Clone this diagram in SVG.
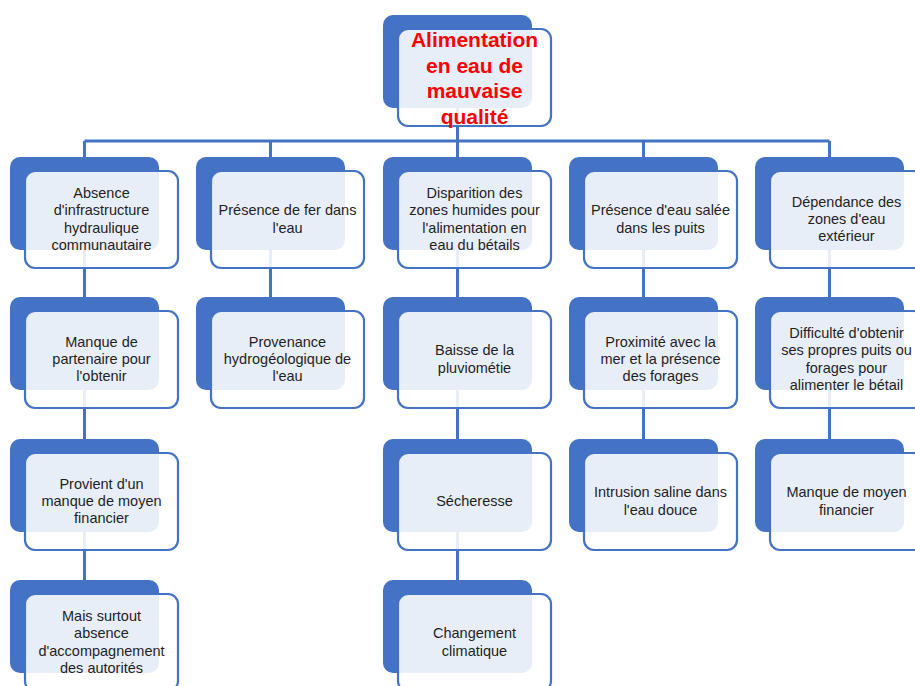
<svg xmlns="http://www.w3.org/2000/svg" width="915" height="686" viewBox="0 0 915 686">
<style>
.bk{fill:#4472C4}
.fr{fill:#ffffff;fill-opacity:0.88;stroke:#4472C4;stroke-width:2.2}
.t{font-family:"Liberation Sans",Arial,sans-serif;font-size:14.5px;fill:#1f1f1f;text-anchor:middle}
.rt{font-family:"Liberation Sans",Arial,sans-serif;font-size:21px;font-weight:bold;fill:#FF0000;text-anchor:middle}
.c{stroke:#4472C4;stroke-width:3;fill:none}
</style>
<defs>
<g id="box">
<rect class="bk" x="0" y="0" width="149" height="93" rx="10"/>
<rect class="fr" x="15" y="14" width="153" height="97" rx="10"/>
</g>
</defs>
<rect width="915" height="686" fill="#ffffff"/>
<g id="connectors">
<path class="c" d="M84.5 141H829.5M457.5 108V157M84.5 141V157M270.5 141V157M643.5 141V157M829.5 141V157"/>
<path class="c" d="M84.5 250V297M84.5 390V439M84.5 532V580"/>
<path class="c" d="M270.5 250V297"/>
<path class="c" d="M457.5 250V297M457.5 390V439M457.5 532V580"/>
<path class="c" d="M643.5 250V297M643.5 390V439"/>
<path class="c" d="M829.5 250V297M829.5 390V439"/>
</g>
<g id="root" transform="translate(383,15)">
<use href="#box"/>
<text class="rt" y="32"><tspan x="91.5">Alimentation</tspan><tspan x="91.5" dy="25.7">en eau de</tspan><tspan x="91.5" dy="25.7">mauvaise</tspan><tspan x="91.5" dy="25.7">qualité</tspan></text>
</g>
<g id="n1" transform="translate(10,157)">
<use href="#box"/>
<text class="t" y="41.05"><tspan x="91.5">Absence</tspan><tspan x="91.5" dy="17.3">d'infrastructure</tspan><tspan x="91.5" dy="17.3">hydraulique</tspan><tspan x="91.5" dy="17.3">communautaire</tspan></text>
</g>
<g id="n1a" transform="translate(10,297)">
<use href="#box"/>
<text class="t" y="49.7"><tspan x="91.5">Manque de</tspan><tspan x="91.5" dy="17.3">partenaire pour</tspan><tspan x="91.5" dy="17.3">l'obtenir</tspan></text>
</g>
<g id="n1b" transform="translate(10,439)">
<use href="#box"/>
<text class="t" y="49.7"><tspan x="91.5">Provient d'un</tspan><tspan x="91.5" dy="17.3">manque de moyen</tspan><tspan x="91.5" dy="17.3">financier</tspan></text>
</g>
<g id="n1c" transform="translate(10,580)">
<use href="#box"/>
<text class="t" y="41.05"><tspan x="91.5">Mais surtout</tspan><tspan x="91.5" dy="17.3">absence</tspan><tspan x="91.5" dy="17.3">d'accompagnement</tspan><tspan x="91.5" dy="17.3">des autorités</tspan></text>
</g>
<g id="n2" transform="translate(196,157)">
<use href="#box"/>
<text class="t" y="58.35"><tspan x="91.5">Présence de fer dans</tspan><tspan x="91.5" dy="17.3">l'eau</tspan></text>
</g>
<g id="n2a" transform="translate(196,297)">
<use href="#box"/>
<text class="t" y="49.7"><tspan x="91.5">Provenance</tspan><tspan x="91.5" dy="17.3">hydrogéologique de</tspan><tspan x="91.5" dy="17.3">l'eau</tspan></text>
</g>
<g id="n3" transform="translate(383,157)">
<use href="#box"/>
<text class="t" y="41.05"><tspan x="91.5">Disparition des</tspan><tspan x="91.5" dy="17.3">zones humides pour</tspan><tspan x="91.5" dy="17.3">l'alimentation en</tspan><tspan x="91.5" dy="17.3">eau du bétails</tspan></text>
</g>
<g id="n3a" transform="translate(383,297)">
<use href="#box"/>
<text class="t" y="58.35"><tspan x="91.5">Baisse de la</tspan><tspan x="91.5" dy="17.3">pluviométie</tspan></text>
</g>
<g id="n3b" transform="translate(383,439)">
<use href="#box"/>
<text class="t" y="67"><tspan x="91.5">Sécheresse</tspan></text>
</g>
<g id="n3c" transform="translate(383,580)">
<use href="#box"/>
<text class="t" y="58.35"><tspan x="91.5">Changement</tspan><tspan x="91.5" dy="17.3">climatique</tspan></text>
</g>
<g id="n4" transform="translate(569,157)">
<use href="#box"/>
<text class="t" y="58.35"><tspan x="91.5">Présence d'eau salée</tspan><tspan x="91.5" dy="17.3">dans les puits</tspan></text>
</g>
<g id="n4a" transform="translate(569,297)">
<use href="#box"/>
<text class="t" y="49.7"><tspan x="91.5">Proximité avec la</tspan><tspan x="91.5" dy="17.3">mer et la présence</tspan><tspan x="91.5" dy="17.3">des forages</tspan></text>
</g>
<g id="n4b" transform="translate(569,439)">
<use href="#box"/>
<text class="t" y="58.35"><tspan x="91.5">Intrusion saline dans</tspan><tspan x="91.5" dy="17.3">l'eau douce</tspan></text>
</g>
<g id="n5" transform="translate(755,157)">
<use href="#box"/>
<text class="t" y="49.7"><tspan x="91.5">Dépendance des</tspan><tspan x="91.5" dy="17.3">zones d'eau</tspan><tspan x="91.5" dy="17.3">extérieur</tspan></text>
</g>
<g id="n5a" transform="translate(755,297)">
<use href="#box"/>
<text class="t" y="41.05"><tspan x="91.5">Difficulté d'obtenir</tspan><tspan x="91.5" dy="17.3">ses propres puits ou</tspan><tspan x="91.5" dy="17.3">forages pour</tspan><tspan x="91.5" dy="17.3">alimenter le bétail</tspan></text>
</g>
<g id="n5b" transform="translate(755,439)">
<use href="#box"/>
<text class="t" y="58.35"><tspan x="91.5">Manque de moyen</tspan><tspan x="91.5" dy="17.3">financier</tspan></text>
</g>
</svg>
